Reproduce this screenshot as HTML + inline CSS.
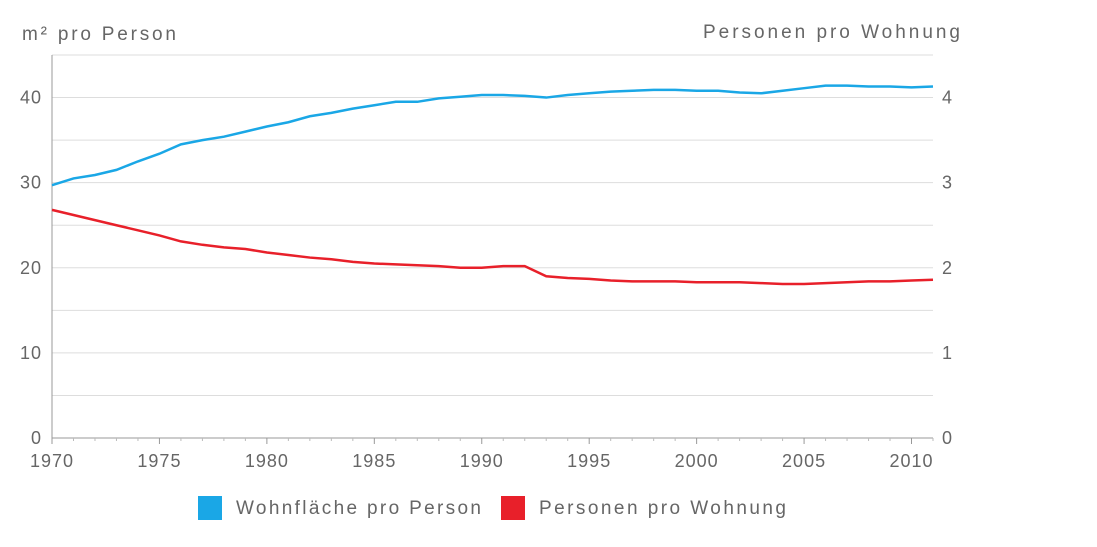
<!DOCTYPE html>
<html><head><meta charset="utf-8"><style>
body{margin:0;background:#fff;width:1097px;height:542px;overflow:hidden;font-family:"Liberation Sans",sans-serif}
text{font-family:"Liberation Sans",sans-serif;fill:#666}
</style></head><body>
<svg id="chart" width="1097" height="542" xmlns="http://www.w3.org/2000/svg">
<g id="grid"></g>
<g id="axes"></g>
<g id="series"></g>
<text x="22" y="40" font-size="19" textLength="154" lengthAdjust="spacing">m² pro Person</text>
<text x="703" y="38" font-size="19" textLength="257" lengthAdjust="spacing">Personen pro Wohnung</text>
<g>
<rect x="198" y="496" width="24" height="24" fill="#1aa7e6"/>
<text x="236" y="514" font-size="19" textLength="245" lengthAdjust="spacing">Wohnfläche pro Person</text>
<rect x="501" y="496" width="24" height="24" fill="#e8202a"/>
<text x="539" y="514" font-size="19" textLength="247" lengthAdjust="spacing">Personen pro Wohnung</text>
</g>
</svg>
<script>
const years=[];for(let y=1970;y<=2011;y++)years.push(y);
const wohnflaeche=[29.7,30.5,30.9,31.5,32.5,33.4,34.5,35.0,35.4,36.0,36.6,37.1,37.8,38.2,38.7,39.1,39.5,39.5,39.9,40.1,40.3,40.3,40.2,40.0,40.3,40.5,40.7,40.8,40.9,40.9,40.8,40.8,40.6,40.5,40.8,41.1,41.4,41.4,41.3,41.3,41.2,41.3];
const personen=[2.68,2.62,2.56,2.50,2.44,2.38,2.31,2.27,2.24,2.22,2.18,2.15,2.12,2.10,2.07,2.05,2.04,2.03,2.02,2.00,2.00,2.02,2.02,1.90,1.88,1.87,1.85,1.84,1.84,1.84,1.83,1.83,1.83,1.82,1.81,1.81,1.82,1.83,1.84,1.84,1.85,1.86];
const leftTicks=[0,10,20,30,40];
const rightTicks=[0,1,2,3,4];
const xTicks=[1970,1975,1980,1985,1990,1995,2000,2005,2010];
const NS="http://www.w3.org/2000/svg";
const X0=52,X1=933,Y0=438,YT=55;
const x=v=>X0+(v-1970)/(2011-1970)*(X1-X0);
const yL=v=>Y0-v/45*(Y0-YT);
const yR=v=>yL(v*10);
function mk(tag,attrs,parent){const e=document.createElementNS(NS,tag);for(const k in attrs)e.setAttribute(k,attrs[k]);parent.appendChild(e);return e;}
const grid=document.getElementById('grid'),axes=document.getElementById('axes'),series=document.getElementById('series');
for(let v=5;v<=45;v+=5){const l=mk('line',{x1:X0,x2:X1,y1:yL(v),y2:yL(v),stroke:'#ddd','stroke-width':1},grid);

}
let a=mk('line',{x1:X0,x2:X0,y1:YT,y2:Y0,stroke:'#999'},axes);


a=mk('line',{x1:X0,x2:X1,y1:Y0,y2:Y0,stroke:'#999'},axes);


leftTicks.forEach(v=>{const t=mk('text',{x:X0-10,y:yL(v)+6,'font-size':18,'letter-spacing':1,'text-anchor':'end'},axes);t.textContent=v;

});
rightTicks.forEach(v=>{const t=mk('text',{x:X1+9,y:yR(v)+6,'font-size':18},axes);t.textContent=v;

});
xTicks.forEach(v=>{const tk=mk('line',{x1:x(v),x2:x(v),y1:Y0,y2:Y0+6,stroke:'#999'},axes);


const t=mk('text',{x:x(v),y:Y0+29,'font-size':18,'letter-spacing':1,'text-anchor':'middle'},axes);t.textContent=v;

});
for(let yv=1971;yv<=2011;yv++){if(yv%5){const tk=mk('line',{x1:x(yv),x2:x(yv),y1:Y0,y2:Y0+3,stroke:'#bbb'},axes);

}}
let p=mk('polyline',{points:years.map((yr,i)=>x(yr)+','+yL(wohnflaeche[i])).join(' '),fill:'none',stroke:'#1aa7e6','stroke-width':2.5},series);


p=mk('polyline',{points:years.map((yr,i)=>x(yr)+','+yR(personen[i])).join(' '),fill:'none',stroke:'#e8202a','stroke-width':2.5},series);


</script>
</body></html>
